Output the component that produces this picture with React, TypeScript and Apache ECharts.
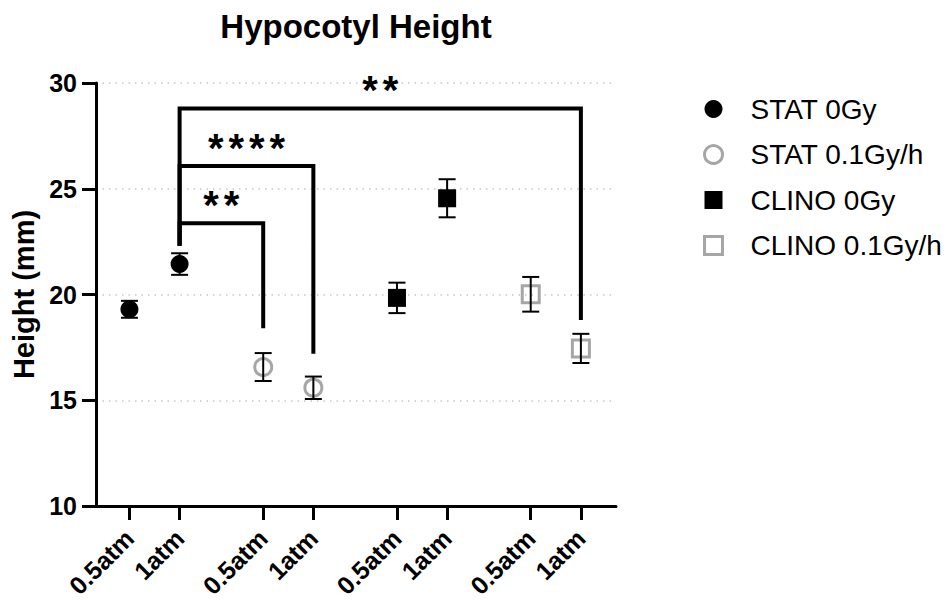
import { useEffect, useRef } from 'react';
import * as echarts from 'echarts';

// ---- data ----
const groups = ['STAT 0Gy', 'STAT 0.1Gy/h', 'CLINO 0Gy', 'CLINO 0.1Gy/h'];
const conditions = ['0.5atm', '1atm'];
const means = [
  [19.3, 21.44],
  [16.57, 15.59],
  [19.84, 24.55],
  [20.01, 17.45],
];
const errors = [
  [0.4, 0.51],
  [0.66, 0.53],
  [0.72, 0.9],
  [0.82, 0.69],
];
const yTicks = [10, 15, 20, 25, 30];

// significance brackets: [group, condition] endpoints
const bracketFrom = [[0, 1], [0, 1], [0, 1]];
const bracketTo = [[1, 0], [1, 1], [3, 1]];
const bracketLevel = [23.37, 26.07, 28.8];
const bracketFromEnd = [22.3, 22.3, 22.3];
const bracketToEnd = [18.4, 17.2, 18.8];
const bracketStars = ['**', '****', '**'];

// ---- layout / style constants ----
const GROUP_STEP = 8;
const COND_STEP = 3;
const FONT = '"Liberation Sans", Arial, Helvetica, sans-serif';
const GREY = '#a6a6a6';
const symbols = ['circle', 'circle', 'rect', 'rect'];
const filled = [true, false, true, false];

const slot = (g: number, c: number) => g * GROUP_STEP + c * COND_STEP;

export default function App() {
  const ref = useRef<HTMLDivElement>(null);

  useEffect(() => {
    if (!ref.current) return;
    const chart = echarts.init(ref.current, null, { renderer: 'svg' });

    const tickValues: number[] = [];
    groups.forEach((_, g) => conditions.forEach((__, c) => tickValues.push(slot(g, c))));
    const labelFor = (v: number) => {
      const r = ((v % GROUP_STEP) + GROUP_STEP) % GROUP_STEP;
      const idx = Math.round(r / COND_STEP);
      return conditions[idx] ?? '';
    };

    const itemStyleFor = (g: number) =>
      filled[g]
        ? { color: '#000', borderWidth: 0, opacity: 1 }
        : { color: 'rgba(255,255,255,0)', borderColor: GREY, borderWidth: 3, opacity: 1 };

    const scatterSeries = groups.map((name, g) => ({
      name,
      type: 'scatter',
      symbol: symbols[g],
      symbolSize: filled[g] ? 18 : 17,
      itemStyle: itemStyleFor(g),
      emphasis: { disabled: true },
      z: 3,
      data: conditions.map((_, c) => [slot(g, c), means[g][c]]),
    }));

    const errData: number[][] = [];
    groups.forEach((_, g) =>
      conditions.forEach((__, c) => {
        errData.push([slot(g, c), means[g][c] - errors[g][c], means[g][c] + errors[g][c]]);
      })
    );

    const errSeries = {
      type: 'custom',
      name: 'err',
      z: 4,
      data: errData,
      encode: { x: 0, y: [1, 2] },
      renderItem: (_p: any, api: any) => {
        const x = api.value(0);
        const lo = api.coord([x, api.value(1)]);
        const hi = api.coord([x, api.value(2)]);
        const hw = 8.5;
        const style = { stroke: '#000', lineWidth: 2 };
        return {
          type: 'group',
          children: [
            { type: 'line', shape: { x1: lo[0], y1: lo[1], x2: hi[0], y2: hi[1] }, style },
            { type: 'line', shape: { x1: lo[0] - hw, y1: lo[1], x2: lo[0] + hw, y2: lo[1] }, style },
            { type: 'line', shape: { x1: hi[0] - hw, y1: hi[1], x2: hi[0] + hw, y2: hi[1] }, style },
          ],
        };
      },
    };

    const bracketData = bracketLevel.map((lvl, i) => [
      slot(bracketFrom[i][0], bracketFrom[i][1]),
      slot(bracketTo[i][0], bracketTo[i][1]),
      lvl,
      bracketFromEnd[i],
      bracketToEnd[i],
      i,
    ]);

    const bracketSeries = {
      type: 'custom',
      name: 'brackets',
      z: 5,
      data: bracketData,
      encode: { x: [0, 1], y: [2, 3, 4] },
      renderItem: (_p: any, api: any) => {
        const x1 = api.value(0);
        const x2 = api.value(1);
        const lvl = api.value(2);
        const i = api.value(5);
        const a = api.coord([x1, api.value(3)]);
        const b = api.coord([x1, lvl]);
        const c = api.coord([x2, lvl]);
        const d = api.coord([x2, api.value(4)]);
        const stars = bracketStars[i];
        const n = stars.length;
        const mid = (b[0] + c[0]) / 2;
        const spacing = 20.5;
        const children: any[] = [
          {
            type: 'polyline',
            shape: { points: [a, b, c, d] },
            style: { stroke: '#000', lineWidth: 4, fill: 'none', lineJoin: 'miter' },
          },
        ];
        for (let k = 0; k < n; k++) {
          children.push({
            type: 'text',
            x: mid + (k - (n - 1) / 2) * spacing,
            y: b[1] - 18,
            style: {
              text: stars[k],
              font: `bold 40px ${FONT}`,
              fill: '#000',
              align: 'center',
              verticalAlign: 'middle',
            },
          });
        }
        return { type: 'group', children };
      },
    };

    chart.setOption({
      animation: false,
      backgroundColor: '#fff',
      title: {
        text: 'Hypocotyl Height',
        left: 356,
        top: 10,
        padding: 0,
        textAlign: 'center',
        textStyle: { fontFamily: FONT, fontSize: 33, fontWeight: 'bold', color: '#000' },
      },
      legend: {
        orient: 'vertical',
        left: 703,
        top: 95,
        itemWidth: 18,
        itemHeight: 18,
        itemGap: 17.5,
        padding: 0,
        selectedMode: false,
        data: groups.map((name, g) => ({
          name,
          icon: symbols[g],
          itemStyle: filled[g]
            ? { color: '#000', borderWidth: 0, opacity: 1 }
            : { color: 'rgba(255,255,255,0)', borderColor: GREY, borderWidth: 3, opacity: 1 },
        })),
        textStyle: {
          fontFamily: FONT,
          fontSize: 28,
          color: '#000',
          lineHeight: 18,
          padding: [0, 0, 0, 23],
        },
      },
      grid: {
        left: 96,
        right: 334,
        top: 83,
        bottom: 96,
        containLabel: false,
        outerBoundsMode: 'none',
      },
      xAxis: {
        type: 'value',
        min: -2,
        max: 29.1,
        axisLine: { show: true, onZero: false, lineStyle: { color: '#000', width: 3 } },
        axisTick: { show: true, customValues: tickValues, length: 14, lineStyle: { color: '#000', width: 3 } },
        axisLabel: {
          customValues: tickValues,
          formatter: (v: number) => labelFor(v),
          rotate: 45,
          margin: 28,
          fontFamily: FONT,
          fontSize: 25,
          fontWeight: 'bold',
          color: '#000',
        },
        splitLine: { show: false },
      },
      yAxis: {
        type: 'value',
        min: yTicks[0],
        max: yTicks[yTicks.length - 1],
        interval: 5,
        name: 'Height (mm)',
        nameLocation: 'middle',
        nameGap: 57,
        nameTextStyle: { fontFamily: FONT, fontSize: 29, fontWeight: 'bold', color: '#000' },
        axisLine: { show: true, onZero: false, lineStyle: { color: '#000', width: 3 } },
        axisTick: { show: true, length: 14, lineStyle: { color: '#000', width: 3 } },
        axisLabel: { margin: 19, fontFamily: FONT, fontSize: 25, fontWeight: 'bold', color: '#000' },
        splitLine: { show: true, lineStyle: { color: '#c8c8c8', width: 1.5, type: [1.5, 5] } },
      },
      series: [...scatterSeries, errSeries, bracketSeries],
    });

    return () => chart.dispose();
  }, []);

  return <div ref={ref} style={{ position: 'fixed', left: 0, top: 0, width: 950, height: 602 }} />;
}
